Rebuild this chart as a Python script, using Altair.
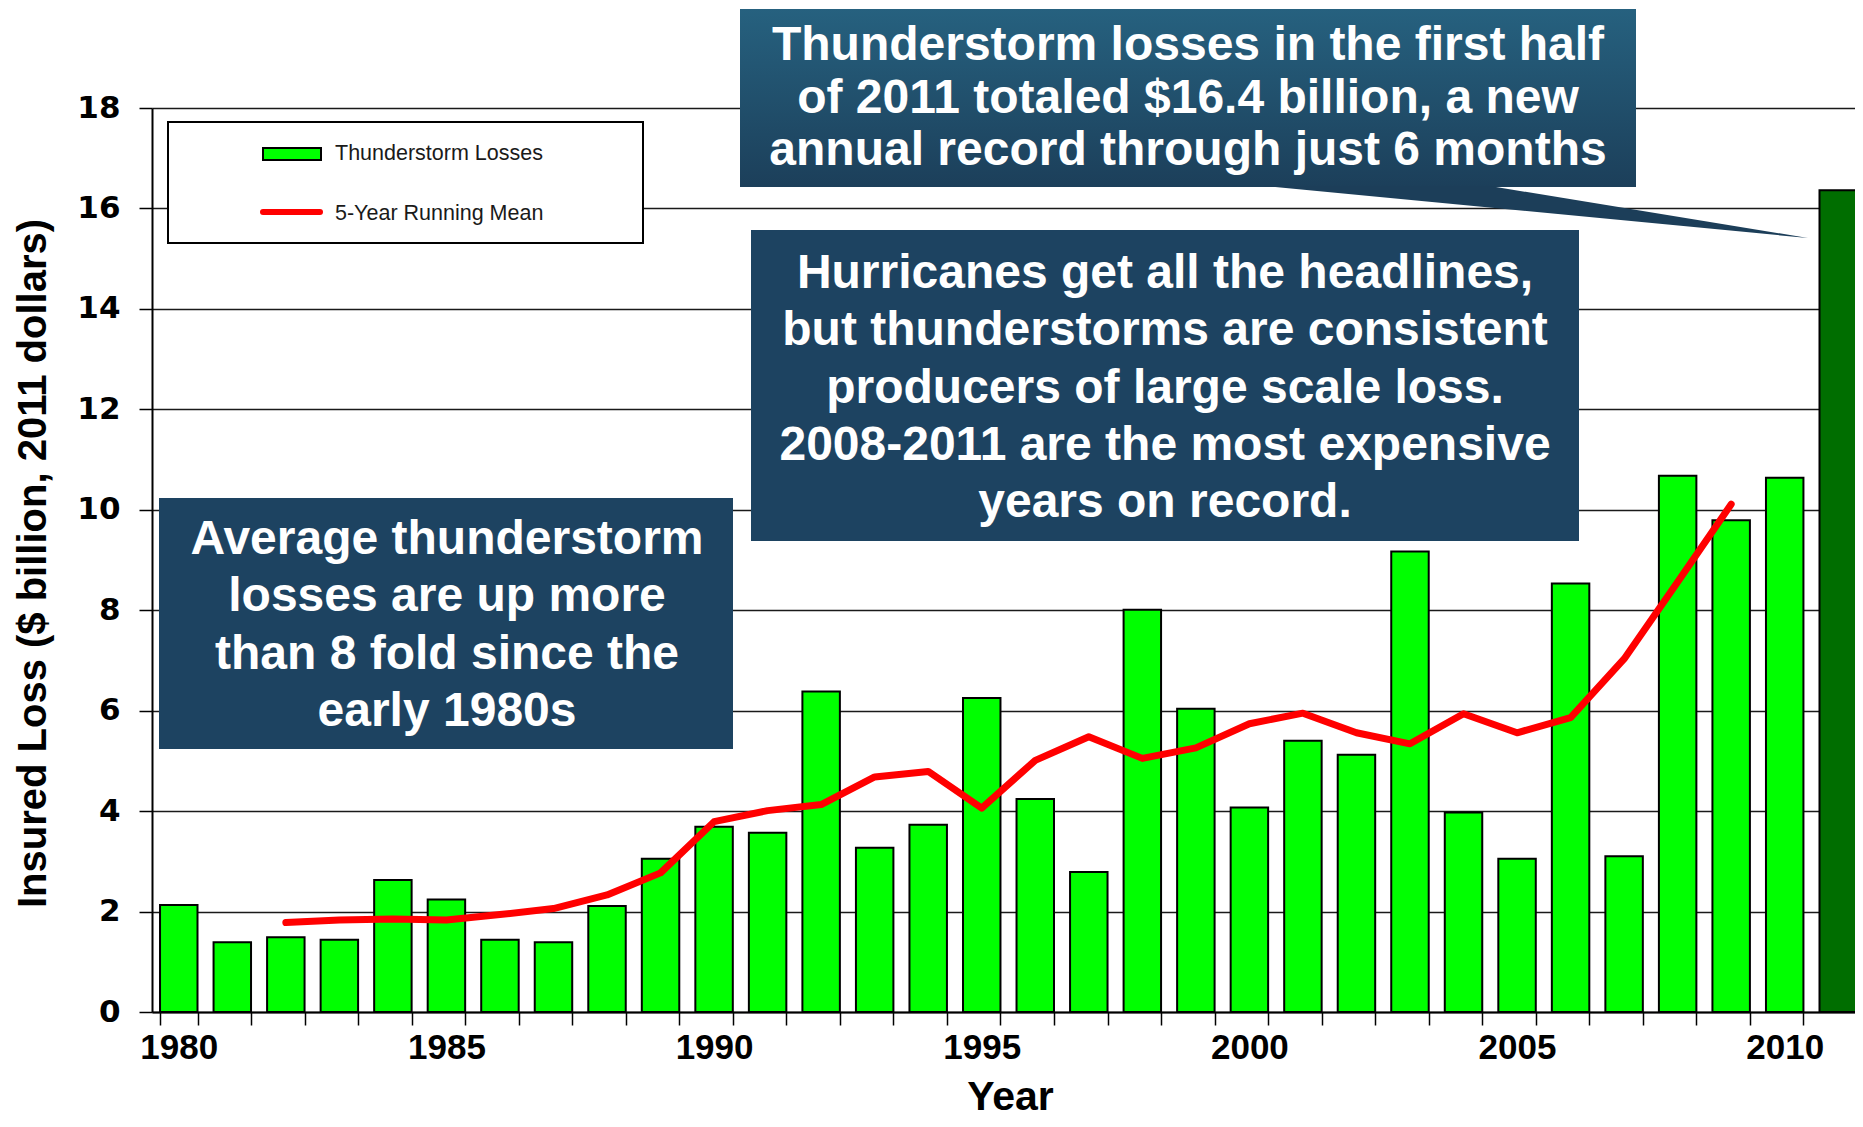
import altair as alt
import pandas as pd

# ---------------- data ----------------
years = list(range(1980, 2012))
losses = [2.13, 1.39, 1.49, 1.44, 2.63, 2.24, 1.44, 1.39, 2.11, 3.05,
          3.69, 3.57, 6.38, 3.27, 3.73, 6.25, 4.24, 2.79, 8.01, 6.04,
          4.07, 5.40, 5.12, 9.17, 3.97, 3.05, 8.53, 3.10, 10.68, 9.79,
          10.64, 16.36]

mean_years = list(range(1982, 2010))
mean_vals = [1.78, 1.83, 1.85, 1.83, 1.94, 2.06, 2.33, 2.77, 3.79, 4.01,
             4.13, 4.68, 4.79, 4.06, 5.01, 5.48, 5.05, 5.26, 5.74, 5.95,
             5.56, 5.34, 5.94, 5.56, 5.86, 7.03, 8.56, 10.11]

y_ticks = list(range(0, 19, 2))

legend_labels = ["Thunderstorm Losses", "5-Year Running Mean"]

box1_text = ["Thunderstorm losses in the first half",
             "of 2011 totaled $16.4 billion, a new",
             "annual record through just 6 months"]
box2_text = ["Hurricanes get all the headlines,",
             "but thunderstorms are consistent",
             "producers of large scale loss.",
             "2008-2011 are the most expensive",
             "years on record."]
box3_text = ["Average thunderstorm",
             "losses are up more",
             "than 8 fold since the",
             "early 1980s"]

bars_df = pd.DataFrame({"year": years, "loss": losses})
mean_df = pd.DataFrame({"year": mean_years, "mean": mean_vals})
dummy = alt.Data(values=[{"a": 1}])

# ---------------- layout constants ----------------
W, H = 1703, 904
XRANGE = 1713
FONT = "Liberation Sans"
BOX = "#1D4361"

x_scale = alt.Scale(domain=years, range=[0, XRANGE], paddingInner=0.3, paddingOuter=0.15)
y_scale = alt.Scale(domain=[0, 18], nice=False)

x_axis = alt.Axis(
    tickBand="extent",
    labelExpr="datum.value % 5 === 0 ? datum.label : ''",
    labelAngle=0, labelOverlap=False,
    labelFont=FONT, labelFontSize=35, labelFontWeight="bold", labelColor="black",
    labelPadding=5,
    tickSize=13, tickColor="black", tickWidth=1.5,
    domainColor="black", domainWidth=2, grid=False,
    title="Year", titleFont=FONT, titleFontSize=41, titleFontWeight="bold",
    titleColor="black", titleX=858, titleY=97, titleBaseline="alphabetic",
    titleAlign="center",
)
y_axis = alt.Axis(
    values=y_ticks, grid=True, gridColor="#1a1a1a", gridWidth=1.5,
    domainColor="black", domainWidth=2,
    tickColor="black", tickWidth=1.5, tickSize=13,
    labelFont="DejaVu Sans", labelFontWeight="bold", labelFontSize=31,
    labelColor="black", labelPadding=19,
    title="Insured Loss ($ billion, 2011 dollars)",
    titleFont=FONT, titleFontSize=40, titleFontWeight="bold", titleColor="black",
    titleX=-107, titleY=455, titleAngle=270, titleBaseline="alphabetic",
    titleAlign="center",
)

bars = alt.Chart(bars_df).mark_bar(stroke="black", strokeWidth=2).encode(
    x=alt.X("year:O", scale=x_scale, axis=x_axis),
    y=alt.Y("loss:Q", scale=y_scale, axis=y_axis),
    color=alt.condition(alt.datum.year == 2011, alt.value("#006E00"), alt.value("#00FF00")),
)

line = alt.Chart(mean_df).mark_line(
    color="#FF0000", strokeWidth=7, strokeCap="round", strokeJoin="round"
).encode(
    x=alt.X("year:O", scale=x_scale),
    y=alt.Y("mean:Q", scale=y_scale),
)

# ---------------- legend ----------------
leg_box = alt.Chart(dummy).mark_rect(fill="white", stroke="black", strokeWidth=2).encode(
    x=alt.value(16), x2=alt.value(491), y=alt.value(14), y2=alt.value(135))
leg_swatch = alt.Chart(dummy).mark_rect(fill="#00FF00", stroke="black", strokeWidth=2).encode(
    x=alt.value(111), x2=alt.value(169), y=alt.value(40), y2=alt.value(52))
leg_line = alt.Chart(dummy).mark_rule(color="#FF0000", strokeWidth=6, strokeCap="round").encode(
    x=alt.value(111), x2=alt.value(168), y=alt.value(104))
leg_t1 = alt.Chart(dummy).mark_text(text=legend_labels[0], font=FONT, fontSize=21.5,
                                    color="#1a1a1a", align="left", baseline="middle").encode(
    x=alt.value(183), y=alt.value(46))
leg_t2 = alt.Chart(dummy).mark_text(text=legend_labels[1], font=FONT, fontSize=21.5,
                                    color="#1a1a1a", align="left", baseline="middle").encode(
    x=alt.value(183), y=alt.value(106))

# ---------------- annotation boxes ----------------
grad = alt.LinearGradient(
    gradient="linear", x1=0, y1=0, x2=0, y2=1,
    stops=[alt.GradientStop(color="#26617F", offset=0),
           alt.GradientStop(color="#1C3F5A", offset=1)],
)
box1 = alt.Chart(dummy).mark_rect(fill=grad).encode(
    x=alt.value(588), x2=alt.value(1484), y=alt.value(-99), y2=alt.value(79))
pointer = alt.Chart(dummy).mark_point(
    shape="M0,0 L226,0 L544,52 Z", size=4, filled=True, color="#1C3E59", opacity=1, strokeWidth=0
).encode(x=alt.value(1112), y=alt.value(78))
box2 = alt.Chart(dummy).mark_rect(fill=BOX).encode(
    x=alt.value(599), x2=alt.value(1427), y=alt.value(122), y2=alt.value(433))
box3 = alt.Chart(dummy).mark_rect(fill=BOX).encode(
    x=alt.value(7), x2=alt.value(581), y=alt.value(390), y2=alt.value(641))

def box_text(lines, x, y, size, lh):
    # y is the centre of the first line
    return alt.Chart(dummy).mark_text(
        text=lines, font=FONT, fontSize=size, fontWeight="bold", color="white",
        align="center", baseline="middle", lineHeight=lh
    ).encode(x=alt.value(x), y=alt.value(y))

t1 = box_text(box1_text, 1036, -62, 48, 52.5)
t2 = box_text(box2_text, 1013, 166, 48, 57.3)
t3 = box_text(box3_text, 295, 432, 48, 57.3)

chart = alt.layer(
    bars, line, leg_box, leg_swatch, leg_line, leg_t1, leg_t2,
    box1, pointer, box2, box3, t1, t2, t3
).properties(
    width=W, height=H,
    padding={"left": 144, "top": 100, "right": 0, "bottom": 105},
    autosize=alt.AutoSizeParams(type="none"),
    background="white",
).configure_view(stroke=None)

chart.save("out.html", embed_options={"renderer": "svg", "actions": False})
